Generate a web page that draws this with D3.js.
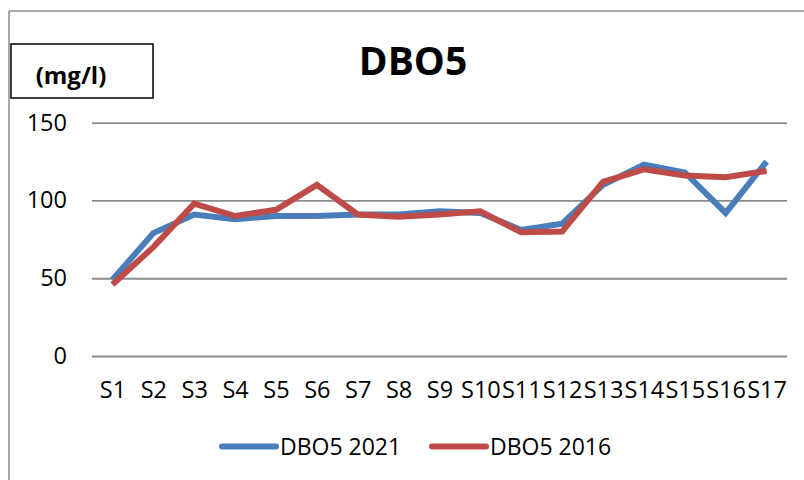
<!DOCTYPE html>
<html>
<head>
<meta charset="utf-8">
<script src="https://cdn.jsdelivr.net/npm/d3@7"></script>
<style>
  html, body { margin: 0; padding: 0; background: #fff; }
  svg { display: block; font-family: "Open Sans", "Noto Sans", sans-serif; }
</style>
</head>
<body>
<svg id="chart" width="804" height="480"></svg>
<script>
// Sampling stations and DBO5 concentrations (mg/l)
const stations = ["S1","S2","S3","S4","S5","S6","S7","S8","S9","S10","S11","S12","S13","S14","S15","S16","S17"];
const dbo5_2021 = [49, 79, 91, 88, 90, 90, 91, 91, 93, 92, 81, 85, 110, 123, 118, 92, 125];
const dbo5_2016 = [46, 70, 98, 90, 94, 110, 91, 89.5, 91, 93, 79.5, 80, 112, 120, 116, 115, 119];
const yTicks = [0, 50, 100, 150];
const seriesNames = ["DBO5 2021", "DBO5 2016"];
const seriesColors = ["#4a7ebb", "#be4b48"];

const svg = d3.select("#chart");

// Frame: top and left edges only
svg.append("line").attr("x1", 9).attr("x2", 804).attr("y1", 11).attr("y2", 11)
  .attr("stroke", "#8c8c8c").attr("stroke-width", 1.5);
svg.append("line").attr("x1", 9).attr("x2", 9).attr("y1", 11).attr("y2", 480)
  .attr("stroke", "#8c8c8c").attr("stroke-width", 1.5);

// Unit box
svg.append("rect").attr("x", 11).attr("y", 44).attr("width", 142).attr("height", 54)
  .attr("fill", "#fff").attr("stroke", "#000").attr("stroke-width", 1.5);
svg.append("text").attr("x", 71).attr("y", 84).attr("text-anchor", "middle")
  .attr("font-size", 24).attr("font-weight", "bold").text("(mg/l)");

// Title
svg.append("text").attr("x", 413).attr("y", 75).attr("text-anchor", "middle")
  .attr("font-size", 39).attr("font-weight", "bold").text("DBO5");

const plot = { left: 92, right: 787, top: 122.7, bottom: 356 };

const x = d3.scalePoint().domain(stations).range([plot.left, plot.right]).padding(0.5);
const y = d3.scaleLinear().domain([0, 150]).range([plot.bottom, plot.top]);

// Horizontal gridlines with value labels
const yAxis = d3.axisLeft(y).tickValues(yTicks).tickSize(-(plot.right - plot.left)).tickPadding(25);
const gy = svg.append("g").attr("transform", `translate(${plot.left},0)`).call(yAxis);
gy.select(".domain").remove();
gy.selectAll(".tick line").attr("stroke", "#8c8c8c").attr("stroke-width", 1.8);
gy.selectAll(".tick text").attr("font-size", 23.5).attr("fill", "#000")
  .attr("font-family", "'Open Sans', sans-serif");

// Station labels
const xAxis = d3.axisBottom(x).tickSize(0).tickPadding(0);
const gx = svg.append("g").attr("transform", `translate(0,${plot.bottom})`).call(xAxis);
gx.select(".domain").remove();
gx.selectAll(".tick text").attr("font-size", 23.5).attr("fill", "#000")
  .attr("dy", null).attr("y", 41.5)
  .attr("font-family", "'Open Sans', sans-serif");

// Series lines
const line = d3.line().x((d, i) => x(stations[i])).y(d => y(d));
[dbo5_2021, dbo5_2016].forEach((vals, k) => {
  svg.append("path").datum(vals).attr("d", line)
    .attr("fill", "none").attr("stroke", seriesColors[k]).attr("stroke-width", 6)
    .attr("stroke-linejoin", "miter").attr("stroke-linecap", "butt");
});

// Legend
const legendX = [222, 432];
seriesNames.forEach((name, k) => {
  svg.append("line").attr("x1", legendX[k]).attr("x2", legendX[k] + 54)
    .attr("y1", 446.5).attr("y2", 446.5)
    .attr("stroke", seriesColors[k]).attr("stroke-width", 6).attr("stroke-linecap", "round");
  svg.append("text").attr("x", legendX[k] + 58).attr("y", 454.5)
    .attr("font-size", 23).attr("fill", "#000").text(name);
});
</script>
</body>
</html>
